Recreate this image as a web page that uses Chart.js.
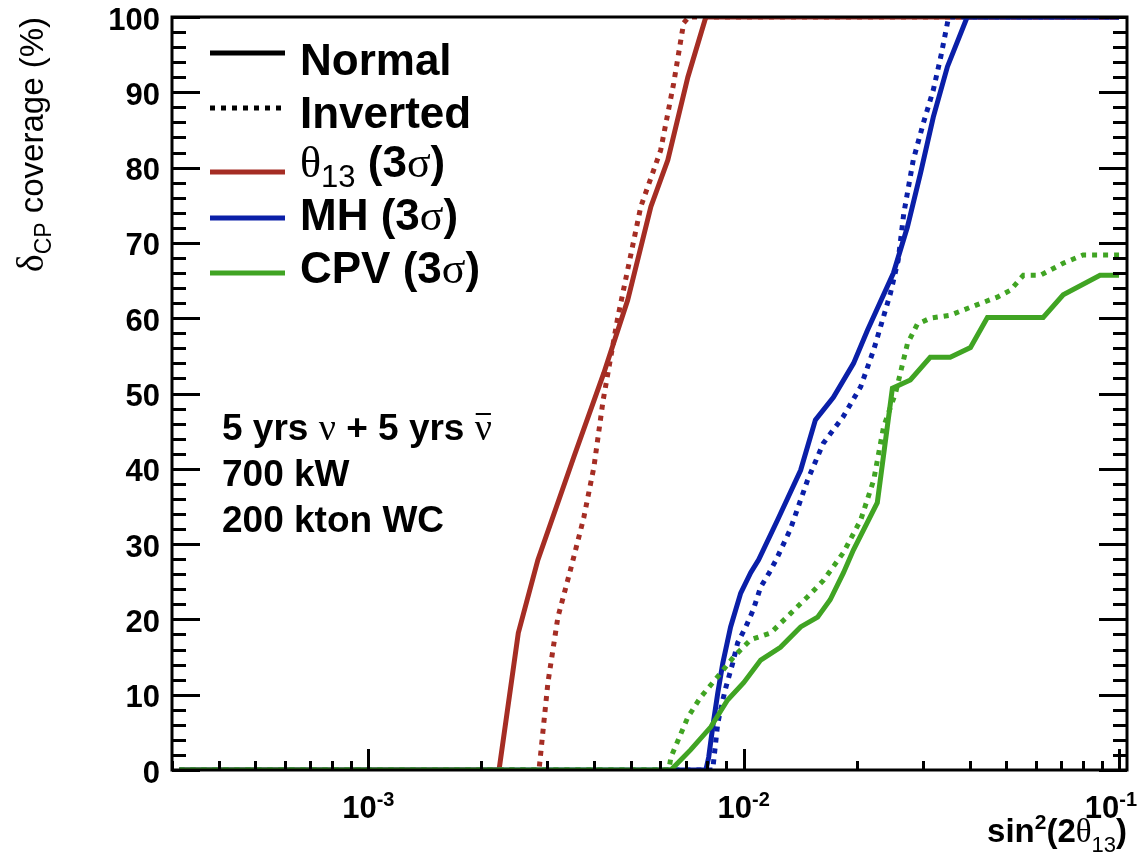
<!DOCTYPE html>
<html>
<head>
<meta charset="utf-8">
<script src="https://cdn.jsdelivr.net/npm/chart.js@4.4.1/dist/chart.umd.min.js"></script>
<style>
  body { margin: 0; background: #fff; }
  canvas { display: block; }
</style>
</head>
<body>
<canvas id="coverageChart" width="1147" height="859"></canvas>
<script>
// sin^2(2theta13) values and deltaCP coverage (%)
const redNormalX = [3.14e-4, 2.23e-3, 2.51e-3, 2.83e-3, 3.53e-3, 4.24e-3, 4.91e-3, 5.66e-3, 6.28e-3, 7.10e-3, 7.93e-3, 0.1];
const redNormalY = [0, 0, 18.2, 27.9, 41.6, 52.7, 62.4, 74.8, 81.0, 92.0, 100, 100];

const redInvertedX = [3.14e-4, 2.85e-3, 3.01e-3, 3.20e-3, 3.47e-3, 3.75e-3, 3.99e-3, 4.22e-3, 4.62e-3, 5.32e-3, 6.01e-3, 6.51e-3, 6.92e-3, 7.14e-3, 0.1];
const redInvertedY = [0, 0, 11.6, 20.3, 26.9, 33.5, 40.2, 49.0, 60.1, 74.8, 82.3, 91.2, 99.2, 100, 100];

const blueNormalX = [3.14e-4, 7.93e-3, 8.07e-3, 8.27e-3, 8.53e-3, 8.80e-3, 9.23e-3, 9.82e-3, 1.044e-2, 1.096e-2, 1.231e-2, 1.418e-2, 1.553e-2, 1.734e-2, 1.962e-2, 2.137e-2, 2.506e-2, 2.73e-2, 2.96e-2, 3.20e-2, 3.49e-2, 3.94e-2, 0.1];
const blueNormalY = [0, 0, 1.7, 5.7, 10.2, 14.2, 19.0, 23.5, 26.2, 27.9, 33.2, 39.8, 46.5, 49.5, 54.0, 58.4, 66.0, 72.1, 79.3, 86.7, 93.4, 100, 100];

const blueInvertedX = [3.14e-4, 8.27e-3, 8.53e-3, 8.80e-3, 8.97e-3, 9.35e-3, 9.64e-3, 1.013e-2, 1.059e-2, 1.11e-2, 1.17e-2, 1.22e-2, 1.33e-2, 1.48e-2, 1.63e-2, 1.84e-2, 2.05e-2, 2.22e-2, 2.46e-2, 2.58e-2, 2.67e-2, 2.83e-2, 3.01e-2, 3.20e-2, 3.35e-2, 3.49e-2, 3.52e-2, 0.1];
const blueInvertedY = [0, 0, 6.2, 9.3, 11.0, 14.2, 16.9, 19.0, 21.2, 24.3, 26.2, 27.9, 31.9, 38.5, 43.4, 46.9, 50.9, 55.8, 63.3, 67.7, 73.9, 81.0, 85.9, 90.3, 94.7, 99.2, 100, 100];

const greenNormalX = [3.14e-4, 6.40e-3, 7.23e-3, 8.17e-3, 9.06e-3, 1.0e-2, 1.11e-2, 1.253e-2, 1.418e-2, 1.574e-2, 1.70e-2, 1.845e-2, 1.96e-2, 2.27e-2, 2.49e-2, 2.78e-2, 3.14e-2, 3.55e-2, 4.02e-2, 4.46e-2, 6.28e-2, 7.10e-2, 8.90e-2, 0.1];
const greenNormalY = [0, 0, 2.7, 5.7, 9.3, 11.6, 14.6, 16.3, 19.0, 20.3, 22.6, 26.2, 29.2, 35.5, 50.7, 51.8, 54.8, 54.8, 56.1, 60.1, 60.1, 63.1, 65.7, 65.7];

const greenInvertedX = [3.14e-4, 6.32e-3, 6.40e-3, 7.10e-3, 7.69e-3, 8.53e-3, 9.40e-3, 1.044e-2, 1.18e-2, 1.334e-2, 1.48e-2, 1.633e-2, 1.845e-2, 2.05e-2, 2.22e-2, 2.36e-2, 2.54e-2, 2.73e-2, 2.90e-2, 3.14e-2, 3.55e-2, 4.09e-2, 4.74e-2, 5.13e-2, 5.56e-2, 6.17e-2, 7.10e-2, 8.02e-2, 0.1];
const greenInvertedY = [0, 0, 1.7, 7.0, 9.7, 12.4, 15.0, 17.3, 18.2, 20.8, 23.0, 25.2, 28.9, 33.2, 38.5, 45.6, 50.1, 56.6, 59.2, 60.0, 60.4, 61.6, 62.8, 63.7, 65.7, 65.7, 67.3, 68.4, 68.4];

const xMajorTicks = [1e-3, 1e-2, 1e-1];
const xMajorExponents = ['-3', '-2', '-1'];
const xDecades = [1e-4, 1e-3, 1e-2];

const RED = '#a52d24';
const BLUE = '#0a1fa8';
const GREEN = '#40a423';

const SANS = '"Liberation Sans", Arial, Helvetica, sans-serif';
const SERIF = '"Liberation Serif", "Times New Roman", serif';

function pts(xs, ys) {
    return xs.map((x, i) => ({ x: x, y: ys[i] }));
}

function lineSet(label, xs, ys, color, dotted) {
    return {
        label: label,
        data: pts(xs, ys),
        borderColor: color,
        borderWidth: 5,
        borderDash: dotted ? [5, 6] : [],
        borderCapStyle: 'butt',
        pointRadius: 0,
        fill: false,
        tension: 0
    };
}

// draws a sequence of text pieces (font, baseline shift) from x along baseline y
function runsWidth(ctx, runs) {
    let w = 0;
    runs.forEach(r => { ctx.font = r.f; w += ctx.measureText(r.t).width; });
    return w;
}
function drawRuns(ctx, x, y, runs) {
    runs.forEach(r => {
        ctx.font = r.f;
        ctx.fillText(r.t, x, y + (r.dy || 0));
        x += ctx.measureText(r.t).width;
    });
    return x;
}

const rootStyle = {
    id: 'rootStyle',
    afterDatasetsDraw(chart) {
        const ctx = chart.ctx;
        const a = chart.chartArea;
        const xs = chart.scales.x;
        const ys = chart.scales.y;
        ctx.save();
        ctx.strokeStyle = '#000';
        ctx.fillStyle = '#000';
        ctx.lineWidth = 3;
        ctx.setLineDash([]);

        // y ticks, left and right, pointing inside
        ctx.beginPath();
        for (let v = 0; v <= 100; v += 2) {
            const py = Math.round(ys.getPixelForValue(v)) + 0.5;
            const len = v % 10 === 0 ? 28 : 14;
            ctx.moveTo(a.left, py); ctx.lineTo(a.left + len, py);
            ctx.moveTo(a.right, py); ctx.lineTo(a.right - len, py);
        }
        // x ticks along the bottom
        xDecades.forEach(d => {
            for (let m = 2; m <= 9; m++) {
                const v = d * m;
                if (v < xs.min || v > xs.max) continue;
                const px = Math.round(xs.getPixelForValue(v)) + 0.5;
                ctx.moveTo(px, a.bottom); ctx.lineTo(px, a.bottom - 9);
            }
        });
        xMajorTicks.forEach(v => {
            const px = Math.round(xs.getPixelForValue(v)) + 0.5;
            ctx.moveTo(px, a.bottom); ctx.lineTo(px, a.bottom - 21);
        });
        ctx.stroke();

        // frame
        ctx.strokeRect(a.left, a.top, a.right - a.left, a.bottom - a.top);

        // x tick labels 10^n
        ctx.textAlign = 'left';
        ctx.textBaseline = 'alphabetic';
        xMajorTicks.forEach((v, i) => {
            const runs = [
                { t: '10', f: 'bold 31px ' + SANS },
                { t: xMajorExponents[i], f: 'bold 20px ' + SANS, dy: -12 }
            ];
            const w = runsWidth(ctx, runs);
            let x0 = xs.getPixelForValue(v) - w / 2;
            if (x0 + w > chart.width - 10) x0 = chart.width - 10 - w;
            drawRuns(ctx, x0, 818, runs);
        });

        // x title
        const xt = [
            { t: 'sin', f: 'bold 33px ' + SANS },
            { t: '2', f: 'bold 21px ' + SANS, dy: -13 },
            { t: '(2', f: 'bold 33px ' + SANS },
            { t: 'θ', f: '33px ' + SERIF },
            { t: '13', f: '22px ' + SANS, dy: 10 },
            { t: ')', f: 'bold 33px ' + SANS }
        ];
        drawRuns(ctx, a.right - runsWidth(ctx, xt), 842, xt);

        // y title, rotated, aligned to top of axis
        const yt = [
            { t: 'δ', f: '38px ' + SERIF },
            { t: 'CP', f: '23px ' + SANS, dy: 8 },
            { t: ' coverage (%)', f: '33px ' + SANS }
        ];
        ctx.save();
        ctx.translate(43, a.top);
        ctx.rotate(-Math.PI / 2);
        drawRuns(ctx, -runsWidth(ctx, yt), 0, yt);
        ctx.restore();

        // legend
        const legend = [
            { color: '#000', dotted: false, ly: 53, by: 75,
              runs: [{ t: 'Normal', f: 'bold 44px ' + SANS }] },
            { color: '#000', dotted: true, ly: 108, by: 128,
              runs: [{ t: 'Inverted', f: 'bold 44px ' + SANS }] },
            { color: RED, dotted: false, ly: 172, by: 177,
              runs: [{ t: 'θ', f: '44px ' + SERIF }, { t: '13', f: '31px ' + SANS, dy: 10 },
                     { t: ' (3', f: 'bold 44px ' + SANS }, { t: 'σ', f: '44px ' + SERIF }, { t: ')', f: 'bold 44px ' + SANS }] },
            { color: BLUE, dotted: false, ly: 218, by: 230,
              runs: [{ t: 'MH (3', f: 'bold 44px ' + SANS }, { t: 'σ', f: '44px ' + SERIF }, { t: ')', f: 'bold 44px ' + SANS }] },
            { color: GREEN, dotted: false, ly: 273, by: 283,
              runs: [{ t: 'CPV (3', f: 'bold 44px ' + SANS }, { t: 'σ', f: '44px ' + SERIF }, { t: ')', f: 'bold 44px ' + SANS }] }
        ];
        legend.forEach(item => {
            ctx.strokeStyle = item.color;
            ctx.lineWidth = 5;
            ctx.setLineDash(item.dotted ? [5, 6] : []);
            ctx.beginPath();
            ctx.moveTo(210, item.ly);
            ctx.lineTo(285, item.ly);
            ctx.stroke();
            ctx.setLineDash([]);
            drawRuns(ctx, 300, item.by, item.runs);
        });

        // run conditions
        const b = 'bold 37px ' + SANS;
        let x = drawRuns(ctx, 222, 440, [{ t: '5 yrs ', f: b }, { t: 'ν', f: '38px ' + SERIF }, { t: ' + 5 yrs ', f: b }]);
        ctx.font = '38px ' + SERIF;
        const nuW = ctx.measureText('ν').width;
        ctx.fillText('ν', x, 440);
        ctx.strokeStyle = '#000';
        ctx.lineWidth = 2;
        ctx.beginPath();
        ctx.moveTo(x + 1, 414);
        ctx.lineTo(x + nuW - 1, 414);
        ctx.stroke();
        drawRuns(ctx, 222, 486, [{ t: '700 kW', f: b }]);
        drawRuns(ctx, 222, 532, [{ t: '200 kton WC', f: b }]);

        ctx.restore();
    }
};

const ctx = document.getElementById('coverageChart').getContext('2d');
const chart = new Chart(ctx, {
    type: 'line',
    data: {
        datasets: [
            lineSet('CPV normal', greenNormalX, greenNormalY, GREEN, false),
            lineSet('CPV inverted', greenInvertedX, greenInvertedY, GREEN, true),
            lineSet('MH normal', blueNormalX, blueNormalY, BLUE, false),
            lineSet('MH inverted', blueInvertedX, blueInvertedY, BLUE, true),
            lineSet('theta13 normal', redNormalX, redNormalY, RED, false),
            lineSet('theta13 inverted', redInvertedX, redInvertedY, RED, true)
        ]
    },
    options: {
        responsive: false,
        animation: false,
        layout: { padding: { top: 17, right: 20, left: 0, bottom: 0 } },
        plugins: {
            legend: { display: false },
            tooltip: { enabled: false }
        },
        scales: {
            x: {
                type: 'logarithmic',
                min: 3.0e-4,
                max: 0.105,
                grid: { display: false },
                border: { display: false },
                ticks: { display: false },
                afterFit: s => { s.height = 89; s.paddingLeft = 0; s.paddingRight = 0; }
            },
            y: {
                min: 0,
                max: 100,
                grid: { display: false, drawTicks: false },
                border: { display: false },
                ticks: {
                    stepSize: 10,
                    color: '#000',
                    padding: 12,
                    labelOffset: 4,
                    font: { family: SANS, size: 31, weight: 'bold' }
                },
                afterFit: s => { s.width = 172; s.paddingTop = 0; s.paddingBottom = 0; }
            }
        }
    },
    plugins: [rootStyle]
});
</script>
</body>
</html>
